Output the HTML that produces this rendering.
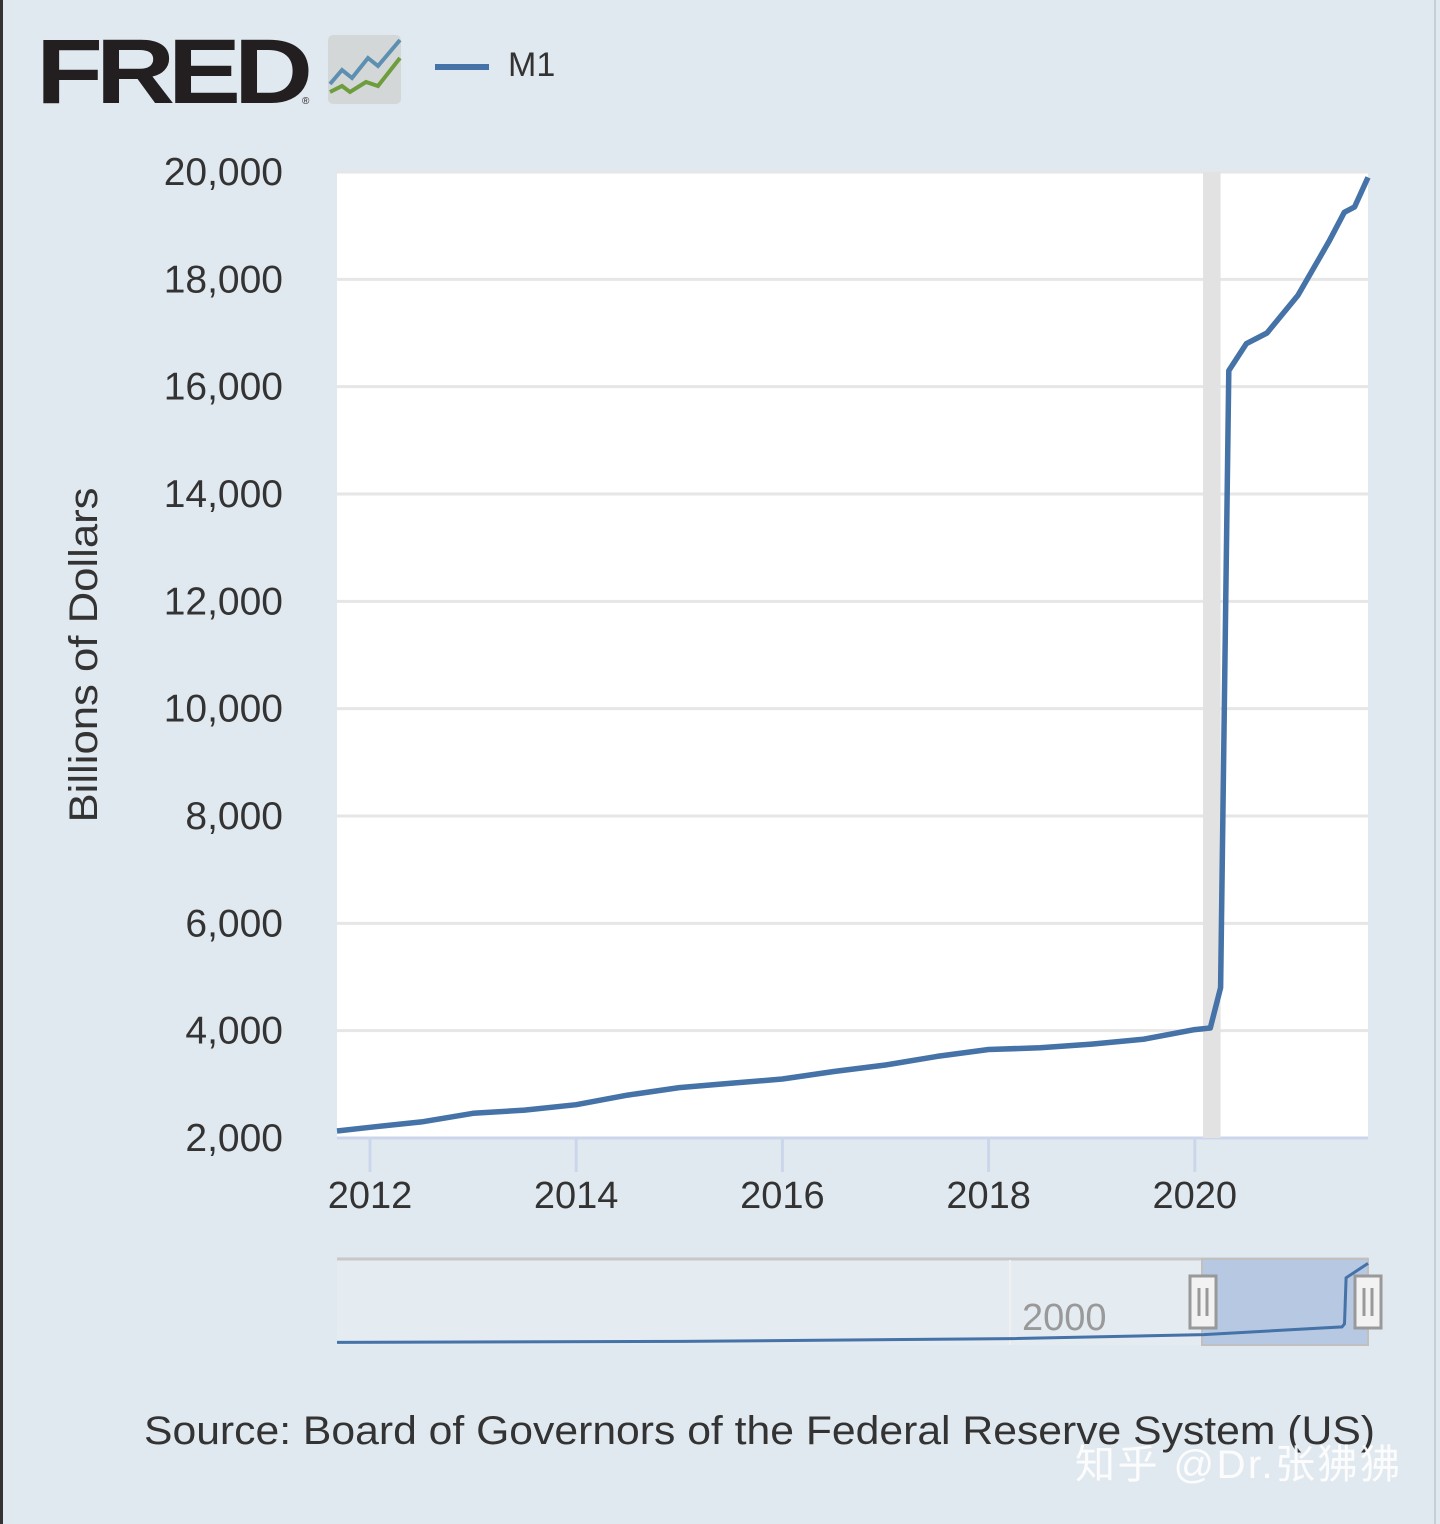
<!DOCTYPE html>
<html><head><meta charset="utf-8"><style>
body{margin:0;background:#e1e9f0;width:1440px;height:1524px;overflow:hidden;font-family:"Liberation Sans",sans-serif;position:relative}
</style></head><body>
<div style="position:absolute;left:0;top:0;width:3px;height:1524px;background:#333"></div>
<div style="position:absolute;left:1434px;top:0;width:2px;height:1524px;background:#c8ced4"></div>
<svg width="1440" height="1524" style="position:absolute;left:0;top:0" xmlns="http://www.w3.org/2000/svg">
<g>
<text x="36" y="103" font-family="Liberation Sans" font-weight="bold" font-size="92" fill="#231f20" letter-spacing="-6" textLength="270" lengthAdjust="spacingAndGlyphs">FRED</text>
<text x="302" y="104" font-size="10" fill="#231f20">®</text>
<rect x="328" y="35" width="73" height="69" rx="5" fill="#d4d7d8"/>
<polyline points="330,84 342,70 352,78 368,58 378,66 400,40" fill="none" stroke="#5d8fb0" stroke-width="4"/>
<polyline points="330,92 342,86 350,92 366,82 378,86 400,58" fill="none" stroke="#6e9d3e" stroke-width="4"/>
</g>
<g>
<rect x="435" y="64" width="54" height="6" fill="#4572a7"/>
<text x="508" y="76" font-size="34" fill="#333">M1</text>
</g>
<rect x="337" y="172" width="1031" height="966" fill="#fff"/>
<g id="grid"></g>
<rect id="rec" y="172" height="966" fill="#e2e2e2"/>
<g id="yticks"></g>
<g id="xticks"></g>
<path id="line" fill="none" stroke="#4572a7" stroke-width="5.5" stroke-linejoin="round"/>
<text transform="translate(97,655) rotate(-90)" text-anchor="middle" font-size="40" fill="#333" textLength="335" lengthAdjust="spacingAndGlyphs">Billions of Dollars</text>
<g>
<rect x="337" y="1258" width="1031" height="87" fill="#e4ebf1"/>
<line x1="337" y1="1259" x2="1368" y2="1259" stroke="#c8c8c8" stroke-width="3"/>
<rect x="1202" y="1259" width="166" height="86" fill="#b7c8e2" stroke="#c0c0c0" stroke-width="2"/>
<line x1="1010" y1="1260" x2="1010" y2="1345" stroke="#f0f0f0" stroke-width="2"/>
<text x="1022" y="1330" font-size="38" fill="#999">2000</text>
<path id="navline" fill="none" stroke="#4572a7" stroke-width="3"/>
<g><rect x="1190" y="1276" width="26" height="52" fill="#f2f2f2" stroke="#999" stroke-width="3"/><line x1="1199" y1="1288" x2="1199" y2="1316" stroke="#999" stroke-width="3"/><line x1="1207" y1="1288" x2="1207" y2="1316" stroke="#999" stroke-width="3"/></g>
<g><rect x="1355" y="1276" width="26" height="52" fill="#f2f2f2" stroke="#999" stroke-width="3"/><line x1="1364" y1="1288" x2="1364" y2="1316" stroke="#999" stroke-width="3"/><line x1="1372" y1="1288" x2="1372" y2="1316" stroke="#999" stroke-width="3"/></g>
</g>
<text x="144" y="1444" font-size="40" fill="#333" textLength="1231" lengthAdjust="spacingAndGlyphs">Source: Board of Governors of the Federal Reserve System (US)</text>
<text x="1075" y="1478" font-family="Liberation Sans, Noto Sans CJK SC, sans-serif" font-size="40" fill="#ffffff" opacity="0.9" textLength="325">知乎 @Dr.张狒狒</text>
</svg>
<script>
const yTicks=[2000,4000,6000,8000,10000,12000,14000,16000,18000,20000];
const xTicks=[2012,2014,2016,2018,2020];
const years=[2011.68,2012.0,2012.5,2013.0,2013.5,2014.0,2014.5,2015.0,2015.5,2016.0,2016.5,2017.0,2017.5,2018.0,2018.5,2019.0,2019.5,2020.0,2020.15,2020.25,2020.33,2020.5,2020.7,2021.0,2021.3,2021.45,2021.55,2021.68];
const values=[2130,2200,2300,2460,2520,2620,2800,2940,3020,3100,3240,3360,3520,3650,3680,3750,3840,4020,4050,4800,16300,16800,17000,17700,18700,19250,19350,19900];
const recession=[2020.08,2020.25];
const navYears=[1959,1980,2000,2011.7,2020.1,2020.25,2020.35,2021.68];
const navValues=[140,400,1100,2100,4020,4800,16300,19900];
const X=t=>337+(t-2011.68)*(1031/10);
const Y=v=>1138-(v-2000)*(966/18000);
const ns="http://www.w3.org/2000/svg";
const grid=document.getElementById('grid'),yt=document.getElementById('yticks'),xt=document.getElementById('xticks');
yTicks.forEach(v=>{
 const l=document.createElementNS(ns,'line');
 
 
 l.setAttribute('x1',337);l.setAttribute('x2',1368);l.setAttribute('y1',Y(v));l.setAttribute('y2',Y(v));
 l.setAttribute('stroke',v==2000?'#ccd6eb':'#e6e6e6');l.setAttribute('stroke-width',3);grid.appendChild(l);
 const t=document.createElementNS(ns,'text');
 
 
 t.setAttribute('x',283);t.setAttribute('y',Y(v)+13);t.setAttribute('text-anchor','end');t.setAttribute('font-size','39');t.setAttribute('fill','#333');
 t.textContent=v.toLocaleString('en-US');yt.appendChild(t);
});
xTicks.forEach(v=>{
 const l=document.createElementNS(ns,'line');
 
 
 l.setAttribute('x1',X(v));l.setAttribute('x2',X(v));l.setAttribute('y1',1138);l.setAttribute('y2',1172);
 l.setAttribute('stroke','#ccd6eb');l.setAttribute('stroke-width',3);xt.appendChild(l);
 const t=document.createElementNS(ns,'text');
 
 
 t.setAttribute('x',X(v));t.setAttribute('y',1208);t.setAttribute('text-anchor','middle');t.setAttribute('font-size','38');t.setAttribute('fill','#333');
 t.textContent=v;xt.appendChild(t);
});
const rec=document.getElementById('rec');
rec.setAttribute('x',X(recession[0]));rec.setAttribute('width',X(recession[1])-X(recession[0]));
document.getElementById('line').setAttribute('d',years.map((t,i)=>(i?'L':'M')+X(t).toFixed(1)+','+Y(values[i]).toFixed(1)).join(''));
const NX=t=>337+(t-1959)*(1031/62.68);
const NY=v=>1343-v*(80/20000);
document.getElementById('navline').setAttribute('d',navYears.map((t,i)=>(i?'L':'M')+NX(t).toFixed(1)+','+NY(navValues[i]).toFixed(1)).join(''));
</script>
</body></html>
